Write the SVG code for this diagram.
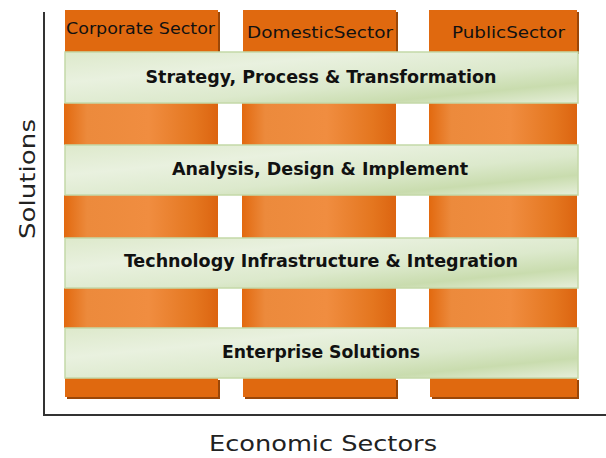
<svg xmlns="http://www.w3.org/2000/svg" width="606" height="458" viewBox="0 0 606 458">
<defs>
<linearGradient id="og" x1="0" y1="0" x2="1" y2="0">
<stop offset="0" stop-color="#e2690f"/>
<stop offset="0.15" stop-color="#ec8a3c"/>
<stop offset="0.55" stop-color="#f08d40"/>
<stop offset="0.85" stop-color="#e4761f"/>
<stop offset="1" stop-color="#dc6410"/>
</linearGradient>
<linearGradient id="gg" x1="0" y1="0" x2="1" y2="1">
<stop offset="0" stop-color="#dde9cb"/>
<stop offset="0.3" stop-color="#e9f1df"/>
<stop offset="0.6" stop-color="#dce9cc"/>
<stop offset="0.8" stop-color="#c9dcae"/>
<stop offset="1" stop-color="#e6efda"/>
</linearGradient>
<style>
.hdr{fill:#e0690f}
.shd{fill:#9a4708}
.seg{fill:url(#og)}
.band{fill:url(#gg);stroke:#c4d9a8;stroke-width:1.5}
.ht{font-family:"DejaVu Sans Condensed","DejaVu Sans",sans-serif;font-size:16px;fill:#111}
.bt{font-family:"DejaVu Sans Condensed","DejaVu Sans",sans-serif;font-size:18px;font-weight:bold;fill:#111;text-anchor:middle}
.ax{font-family:"DejaVu Sans","Liberation Sans",sans-serif;font-size:21px;fill:#222;text-anchor:middle}
</style>
</defs>
<g id="axes" stroke="#333" stroke-width="2" fill="none">
<path d="M44 12 V415 H606"/>
</g>
<g id="columns">
<g id="col-corporate">
<rect x="67" y="12" width="153" height="42" class="shd"/>
<rect x="65" y="10" width="153" height="42" class="hdr"/>
<rect x="64" y="103" width="154" height="42" class="seg"/>
<rect x="64" y="195" width="154" height="43" class="seg"/>
<rect x="64" y="288" width="154" height="40" class="seg"/>
<rect x="67" y="380" width="153" height="19" class="shd"/>
<rect x="65" y="378" width="153" height="19" class="hdr"/>
<text x="66" y="34" class="ht" textLength="149" lengthAdjust="spacingAndGlyphs">Corporate Sector</text>
</g>
<g id="col-domestic">
<rect x="245" y="12" width="153" height="42" class="shd"/>
<rect x="243" y="10" width="153" height="42" class="hdr"/>
<rect x="242" y="103" width="154" height="42" class="seg"/>
<rect x="242" y="195" width="154" height="43" class="seg"/>
<rect x="242" y="288" width="154" height="40" class="seg"/>
<rect x="245" y="380" width="153" height="19" class="shd"/>
<rect x="243" y="378" width="153" height="19" class="hdr"/>
<text x="247" y="38" class="ht" textLength="146" lengthAdjust="spacingAndGlyphs">DomesticSector</text>
</g>
<g id="col-public">
<rect x="431" y="12" width="148" height="42" class="shd"/>
<rect x="429" y="10" width="148" height="42" class="hdr"/>
<rect x="429" y="103" width="148" height="42" class="seg"/>
<rect x="429" y="195" width="148" height="43" class="seg"/>
<rect x="429" y="288" width="148" height="40" class="seg"/>
<rect x="432" y="380" width="147" height="19" class="shd"/>
<rect x="430" y="378" width="147" height="19" class="hdr"/>
<text x="452" y="38" class="ht" textLength="113" lengthAdjust="spacingAndGlyphs">PublicSector</text>
</g>
</g>
<g id="band-strategy">
<rect x="65" y="52" width="513" height="51" class="band"/>
<text x="321" y="83" class="bt" textLength="351" lengthAdjust="spacingAndGlyphs">Strategy, Process &amp; Transformation</text>
</g>
<g id="band-analysis">
<rect x="65" y="145" width="513" height="50" class="band"/>
<text x="320" y="175" class="bt" textLength="296" lengthAdjust="spacingAndGlyphs">Analysis, Design &amp; Implement</text>
</g>
<g id="band-technology">
<rect x="65" y="238" width="513" height="50" class="band"/>
<text x="321" y="267" class="bt" textLength="394" lengthAdjust="spacingAndGlyphs">Technology Infrastructure &amp; Integration</text>
</g>
<g id="band-enterprise">
<rect x="65" y="328" width="513" height="50" class="band"/>
<text x="321" y="358" class="bt" textLength="198" lengthAdjust="spacingAndGlyphs">Enterprise Solutions</text>
</g>
<g id="labels">
<text x="323" y="451" class="ax" textLength="228" lengthAdjust="spacingAndGlyphs">Economic Sectors</text>
<text transform="translate(35 179) rotate(-90)" class="ax" textLength="120" lengthAdjust="spacingAndGlyphs">Solutions</text>
</g>
</svg>
